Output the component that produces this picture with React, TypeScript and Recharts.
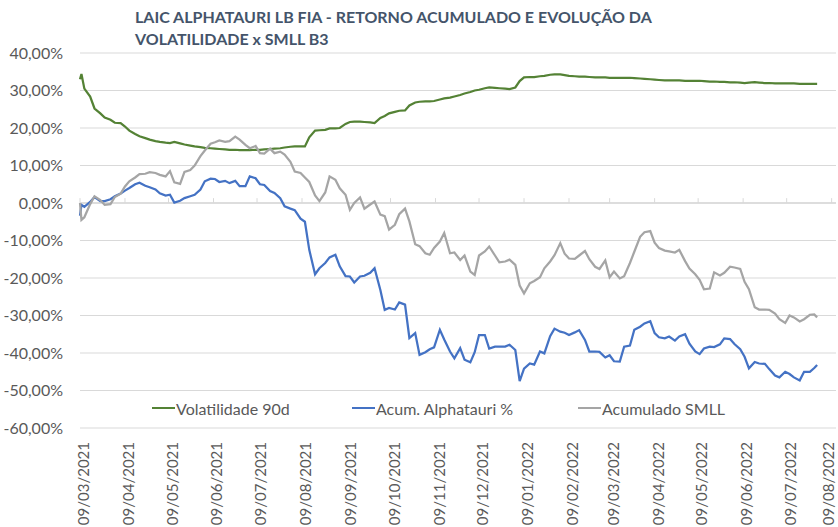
import React from 'react';
import { LineChart, Line, XAxis, YAxis, CartesianGrid, Legend, ReferenceLine } from 'recharts';

// days counted from 09/03/2021
const days = [
  0, 1, 3, 7, 10, 14, 17, 21, 24, 28,
  31, 34, 38, 41, 45, 48, 52, 55, 59, 62,
  65, 69, 72, 76, 79, 83, 86, 90, 93, 96,
  100, 103, 107, 110, 114, 117, 121, 124, 127, 131,
  134, 138, 141, 145, 148, 152, 155, 158, 162, 165,
  169, 172, 176, 179, 183, 186, 189, 193, 196, 200,
  203, 207, 210, 213, 217, 220, 224, 227, 231, 234,
  238, 241, 244, 248, 251, 255, 258, 262, 265, 269,
  272, 275, 279, 282, 286, 289, 293, 296, 300, 303,
  306, 310, 313, 317, 320, 324, 327, 331, 334, 337,
  341, 344, 348, 351, 355, 358, 362, 365, 368, 372,
  375, 379, 382, 386, 389, 393, 396, 399, 403, 406,
  410, 413, 417, 420, 424, 427, 430, 434, 437, 441,
  444, 448, 451, 455, 458, 461, 465, 468, 472, 475,
  479, 482, 486, 489, 492, 496, 499, 503, 506, 508,
];

const volatilidade = [
  33.0, 34.4, 30.5, 28.4, 25.2, 23.9, 22.8, 22.2, 21.4, 21.3,
  20.4, 19.3, 18.4, 17.8, 17.3, 16.9, 16.5, 16.3, 16.1, 16.0,
  16.3, 15.9, 15.6, 15.3, 15.1, 14.9, 14.7, 14.6, 14.5, 14.4,
  14.3, 14.2, 14.2, 14.1, 14.1, 14.1, 14.2, 14.2, 14.3, 14.4,
  14.5, 14.6, 14.8, 15.0, 15.1, 15.1, 15.1, 17.5, 19.3, 19.4,
  19.5, 19.9, 19.9, 20.0, 21.1, 21.6, 21.7, 21.7, 21.6, 21.5,
  21.3, 22.7, 23.2, 23.9, 24.3, 24.6, 24.7, 26.0, 26.8, 27.0,
  27.1, 27.1, 27.2, 27.6, 27.9, 28.1, 28.4, 28.8, 29.2, 29.6,
  30.0, 30.2, 30.6, 30.8, 30.7, 30.6, 30.5, 30.4, 30.8, 32.5,
  33.5, 33.6, 33.6, 33.8, 33.9, 34.2, 34.3, 34.3, 34.1, 33.9,
  33.8, 33.7, 33.7, 33.6, 33.5, 33.5, 33.5, 33.4, 33.4, 33.4,
  33.4, 33.4, 33.3, 33.2, 33.1, 33.0, 32.9, 32.8, 32.7, 32.7,
  32.7, 32.7, 32.6, 32.6, 32.6, 32.6, 32.5, 32.4, 32.4, 32.3,
  32.3, 32.2, 32.2, 32.1, 32.0, 32.1, 32.2, 32.1, 32.0, 32.0,
  31.9, 31.9, 31.9, 31.9, 31.9, 31.8, 31.8, 31.8, 31.8, 31.8,
];

const alphatauri = [
  -3.4, -0.5, -1.0, 0.3, 1.6, 0.5, 0.5, 1.0, 1.8, 2.5,
  3.3, 4.0, 5.0, 5.4, 4.6, 4.2, 3.6, 2.6, 2.0, 2.2,
  0.1, 0.6, 1.3, 1.8, 2.2, 3.6, 5.8, 6.5, 6.4, 5.6,
  5.9, 5.3, 5.9, 4.5, 4.5, 7.1, 6.6, 5.0, 4.8, 3.2,
  2.7, 1.3, -0.9, -1.5, -1.9, -4.2, -5.0, -12.5, -19.0, -17.4,
  -16.0, -14.5, -13.8, -16.9, -19.5, -19.6, -21.2, -19.6, -19.4, -18.6,
  -17.4, -23.2, -28.5, -28.0, -28.4, -26.5, -27.1, -36.0, -34.7, -40.5,
  -39.8, -39.0, -38.5, -33.8, -36.4, -39.6, -41.4, -38.7, -41.8, -42.5,
  -39.8, -35.2, -35.2, -38.8, -38.3, -38.3, -38.3, -37.8, -39.2, -47.5,
  -44.2, -42.8, -43.1, -39.6, -40.1, -35.5, -33.5, -34.3, -34.6, -35.2,
  -34.5, -33.9, -36.5, -39.6, -39.6, -39.7, -41.2, -40.6, -42.2, -42.3,
  -38.3, -38.0, -33.8, -33.0, -32.1, -31.5, -34.7, -35.8, -36.1, -35.6,
  -36.7, -35.6, -35.0, -37.5, -39.6, -40.3, -38.8, -38.3, -38.4, -37.7,
  -36.1, -36.3, -37.6, -39.0, -41.0, -44.1, -42.4, -42.8, -42.9, -44.3,
  -46.0, -46.5, -45.0, -45.6, -46.5, -47.3, -45.0, -45.0, -44.0, -43.2,
];

const smll = [
  0.0, -4.5, -3.8, -0.3, 1.8, 0.8, -0.5, -0.3, 1.6, 2.5,
  4.4, 5.8, 6.8, 7.7, 7.8, 8.2, 8.0, 7.5, 7.1, 8.5,
  5.5, 5.1, 8.3, 8.8, 10.0, 12.5, 14.0, 15.8, 16.2, 16.7,
  16.3, 16.5, 17.7, 16.9, 15.5, 14.6, 15.2, 13.3, 13.2, 14.5,
  13.3, 13.7, 12.9, 11.0, 8.4, 8.0, 6.8, 5.6, 2.0, 0.5,
  2.8, 7.1, 6.2, 3.9, 2.2, -1.8, 0.0, 1.5, -1.5, -0.4,
  0.4, -3.1, -3.5, -7.1, -5.8, -3.0, -1.5, -4.9, -11.0, -11.5,
  -13.4, -13.8, -12.0, -10.3, -8.0, -13.4, -13.2, -15.2, -14.0, -18.3,
  -19.2, -14.0, -12.9, -11.6, -14.0, -15.8, -15.6, -15.1, -16.5, -22.0,
  -24.1, -21.4, -20.8, -19.8, -17.4, -15.6, -13.9, -10.7, -13.5, -14.8,
  -14.9, -14.0, -12.8, -15.0, -17.0, -17.6, -15.3, -19.8, -18.3, -20.1,
  -19.5, -16.0, -13.0, -9.0, -7.8, -7.5, -10.6, -12.0, -12.7, -12.9,
  -13.2, -12.5, -15.5, -17.5, -19.0, -20.5, -23.0, -22.8, -18.5, -19.3,
  -18.6, -17.0, -17.2, -17.6, -21.0, -23.0, -27.8, -28.4, -28.4, -28.5,
  -29.5, -31.0, -32.0, -30.0, -30.5, -31.6, -31.0, -29.8, -29.7, -30.5,
];

const tickDays = [0, 31, 61, 92, 122, 153, 184, 214, 245, 275, 306, 337, 365, 396, 426, 457, 487, 518];
const tickLabels = [
  '09/03/2021', '09/04/2021', '09/05/2021', '09/06/2021', '09/07/2021', '09/08/2021',
  '09/09/2021', '09/10/2021', '09/11/2021', '09/12/2021', '09/01/2022', '09/02/2022',
  '09/03/2022', '09/04/2022', '09/05/2022', '09/06/2022', '09/07/2022', '09/08/2022',
];
const yTicks = [40, 30, 20, 10, 0, -10, -20, -30, -40, -50, -60];

const chartData = days.map((d, i) => ({
  d,
  vol: volatilidade[i],
  alpha: alphatauri[i],
  smll: smll[i],
}));

const FONT = 'Lato, "Open Sans", sans-serif';
const TEXT = '#595959';
const legendLeft: Record<string, number> = {
  'Volatilidade 90d': 152,
  'Acum. Alphatauri %': 352,
  'Acumulado SMLL': 578,
};

const fmtPct = (v: number) => `${v.toFixed(2).replace('.', ',')}%`;

const DateTick = ({ x, y, payload }: any) => {
  const idx = tickDays.indexOf(payload.value);
  // last label sits on the right edge, nudge it in so it is not clipped
  const shift = idx === tickDays.length - 1 ? 2 : 9;
  return (
    <text
      x={0}
      y={0}
      transform={`translate(${x + shift},${y + 14}) rotate(-90)`}
      textAnchor="end"
      fill={TEXT}
      fontSize={15}
      fontFamily={FONT}
    >
      {tickLabels[idx]}
    </text>
  );
};

const renderLegend = (props: any) => (
  <div style={{ position: 'relative', height: 20 }}>
    {(props.payload || []).map((entry: any) => (
      <div
        key={entry.value}
        style={{
          position: 'absolute',
          left: legendLeft[entry.value],
          top: 0,
          height: 20,
          display: 'flex',
          alignItems: 'center',
        }}
      >
        <span style={{ display: 'inline-block', width: 23, height: 2.5, background: entry.color, marginRight: 1 }} />
        <span style={{ fontFamily: FONT, fontSize: 16, color: TEXT, whiteSpace: 'nowrap' }}>{entry.value}</span>
      </div>
    ))}
  </div>
);

const App: React.FC = () => {
  return (
    <div style={{ position: 'fixed', left: 0, top: 0, width: 838, height: 527, background: '#fff', overflow: 'hidden' }}>
      <div
        style={{
          position: 'absolute',
          left: 135,
          top: 6,
          fontFamily: FONT,
          fontWeight: 700,
          fontSize: 16,
          lineHeight: '22px',
          color: '#44546A',
          zIndex: 2,
        }}
      >
        LAIC ALPHATAURI LB FIA - RETORNO ACUMULADO E EVOLUÇÃO DA
        <br />
        VOLATILIDADE x SMLL B3
      </div>
      <LineChart width={838} height={527} data={chartData} margin={{ top: 53, right: 2, bottom: 0, left: 0 }}>
        <CartesianGrid vertical={false} stroke="#d9d9d9" />
        <XAxis
          dataKey="d"
          type="number"
          domain={[0, 521]}
          ticks={tickDays}
          interval={0}
          height={99}
          axisLine={false}
          tickLine={false}
          tickSize={0}
          tickMargin={0}
          tick={<DateTick />}
        />
        <YAxis
          type="number"
          domain={[-60, 40]}
          ticks={yTicks}
          width={80}
          axisLine={false}
          tickLine={false}
          tickSize={0}
          tickMargin={17}
          tickFormatter={fmtPct}
          tick={{ fill: TEXT, fontSize: 16, fontFamily: FONT }}
        />
        <ReferenceLine y={0} stroke="#d9d9d9" strokeWidth={1.5} />
        {tickDays.map((d) => (
          <ReferenceLine
            key={d}
            segment={[{ x: d, y: 0 }, { x: d, y: 1.3 }]}
            stroke="#d9d9d9"
            strokeWidth={1}
          />
        ))}
        <Legend
          layout="horizontal"
          verticalAlign="middle"
          align="center"
          content={renderLegend}
          wrapperStyle={{ position: 'absolute', top: 398, left: 0, width: 838, height: 20 }}
        />
        <Line
          name="Volatilidade 90d"
          type="linear"
          dataKey="vol"
          stroke="#548235"
          strokeWidth={2.25}
          dot={false}
          isAnimationActive={false}
        />
        <Line
          name="Acum. Alphatauri %"
          type="linear"
          dataKey="alpha"
          stroke="#4472C4"
          strokeWidth={2.25}
          dot={false}
          isAnimationActive={false}
        />
        <Line
          name="Acumulado SMLL"
          type="linear"
          dataKey="smll"
          stroke="#A5A5A5"
          strokeWidth={2.25}
          dot={false}
          isAnimationActive={false}
        />
      </LineChart>
    </div>
  );
};

export default App;
